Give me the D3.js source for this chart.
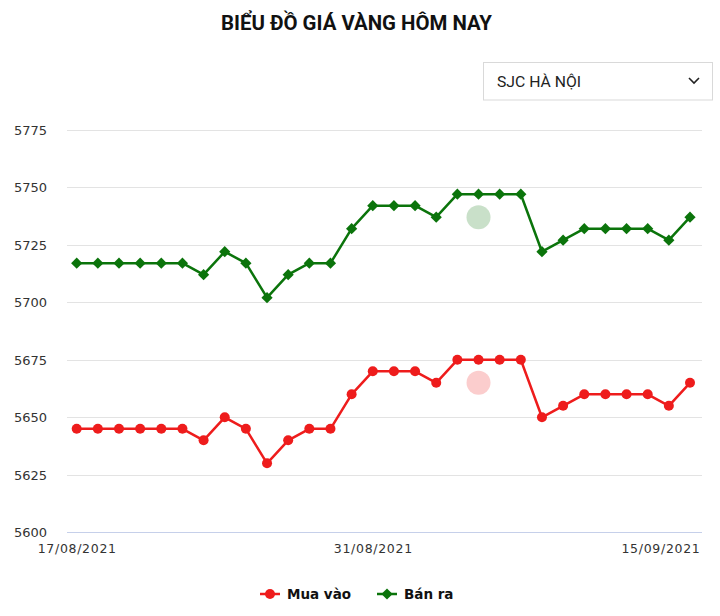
<!DOCTYPE html>
<html>
<head>
<meta charset="utf-8">
<script src="https://cdn.jsdelivr.net/npm/d3@7"></script>
<style>
  html, body { margin: 0; padding: 0; background: #fff; }
  svg { display: block; }
</style>
</head>
<body>
<svg id="chart" width="720" height="616"></svg>
<script>
// ---- data ----
const dates = [
  "17/08/2021","18/08/2021","19/08/2021","20/08/2021","21/08/2021","22/08/2021",
  "23/08/2021","24/08/2021","25/08/2021","26/08/2021","27/08/2021","28/08/2021",
  "29/08/2021","30/08/2021","31/08/2021","01/09/2021","02/09/2021","03/09/2021",
  "04/09/2021","05/09/2021","06/09/2021","07/09/2021","08/09/2021","09/09/2021",
  "10/09/2021","11/09/2021","12/09/2021","13/09/2021","14/09/2021","15/09/2021"
];
const buyValues = [5645,5645,5645,5645,5645,5645,5640,5650,5645,5630,5640,5645,5645,5660,5670,
                   5670,5670,5665,5675,5675,5675,5675,5650,5655,5660,5660,5660,5660,5655,5665];
const sellValues = [5717,5717,5717,5717,5717,5717,5712,5722,5717,5702,5712,5717,5717,5732,5742,
                    5742,5742,5737,5747,5747,5747,5747,5722,5727,5732,5732,5732,5732,5727,5737];
const yTicks = [5600,5625,5650,5675,5700,5725,5750,5775];
const xTickLabels = ["17/08/2021","31/08/2021","15/09/2021"];
const seriesNames = ["Mua vào","Bán ra"];
const haloDate = ["05/09/2021"];
const haloValues = [5665, 5737]; // buy, sell
const titleText = "BIỂU ĐỒ GIÁ VÀNG HÔM NAY";
const selectText = "SJC HÀ NỘI";

// ---- layout ----
const svg = d3.select("#chart");
const plotLeft = 67, plotRight = 702;
const x = d3.scalePoint().domain(dates).range([76.7, 690]);
const y = d3.scaleLinear().domain([5600, 5775]).range([532.3, 129.8]);

const red = "#ee1c1c", green = "#0b740b";

// title
svg.append("text")
  .attr("x", 221).attr("y", 29.5)
  .attr("textLength", 271).attr("lengthAdjust", "spacingAndGlyphs")
  .style("font-family", "Roboto, 'Open Sans', sans-serif")
  .style("font-weight", "700").style("font-size", "20px").attr("fill", "#111")
  .text(titleText);

// dropdown
const dd = svg.append("g");
dd.append("rect").attr("x", 483.5).attr("y", 62.5).attr("width", 229).attr("height", 37.5)
  .attr("fill", "#fff").attr("stroke", "#d9d9d9");
dd.append("text").attr("x", 497).attr("y", 87)
  .style("font-family", "Roboto, sans-serif").style("font-size", "15px").attr("fill", "#222")
  .attr("textLength", 84).attr("lengthAdjust", "spacingAndGlyphs")
  .text(selectText);
dd.append("path").attr("d", "M689,78 L694,83 L699,78").attr("fill", "none")
  .attr("stroke", "#222").attr("stroke-width", 1.6);

// grid
const grid = svg.append("g");
grid.selectAll("line").data(yTicks).join("line")
  .attr("x1", plotLeft).attr("x2", plotRight)
  .attr("y1", d => Math.round(y(d)) + 0.5).attr("y2", d => Math.round(y(d)) + 0.5)
  .attr("stroke", d => d === 5600 ? "#c6d0ea" : "#e3e3e3").attr("stroke-width", 1.2);

// y axis labels
const yAxis = d3.axisLeft(y).tickValues(yTicks).tickFormat(d3.format("d")).tickSize(0).tickPadding(0);
const yg = svg.append("g").attr("transform", "translate(47,0)").call(yAxis);
yg.select(".domain").remove();
yg.selectAll("text")
  .style("font-family", "'DejaVu Sans', Verdana, sans-serif").style("font-size", "13px")
  .attr("fill", "#333").attr("dy", "0.36em");

// x axis labels
const xAxis = d3.axisBottom(x).tickValues(xTickLabels).tickSize(0).tickPadding(0);
const xg = svg.append("g").attr("transform", "translate(0,544)").call(xAxis);
xg.select(".domain").remove();
xg.selectAll("text")
  .style("font-family", "'DejaVu Sans', Verdana, sans-serif").style("font-size", "12.5px")
  .style("letter-spacing", "0.7px")
  .attr("fill", "#333").attr("dy", "0.71em");
// keep labels inside the plot area
xg.selectAll(".tick").each(function(d) {
  const t = d3.select(this).select("text");
  const w = t.node().getComputedTextLength();
  const cx = x(d);
  if (cx + w / 2 > plotRight) {
    t.attr("text-anchor", "end").attr("x", plotRight - 2 - cx);
  }
});

// lines
const line = vals => d3.line().x((d, i) => x(dates[i])).y(d => y(d))(vals);

// halos
const haloG = svg.append("g");
haloG.append("circle").attr("cx", x(haloDate[0])).attr("cy", y(haloValues[0])).attr("r", 12)
  .attr("fill", red).attr("fill-opacity", 0.22);
haloG.append("circle").attr("cx", x(haloDate[0])).attr("cy", y(haloValues[1])).attr("r", 12)
  .attr("fill", green).attr("fill-opacity", 0.22);

svg.append("path").attr("d", line(sellValues)).attr("fill", "none")
  .attr("stroke", green).attr("stroke-width", 2.5).attr("stroke-linejoin", "round");
svg.append("path").attr("d", line(buyValues)).attr("fill", "none")
  .attr("stroke", red).attr("stroke-width", 2.5).attr("stroke-linejoin", "round");

const diamond = d3.symbol().type(d3.symbolDiamond2).size(80);
svg.append("g").selectAll("path").data(sellValues).join("path")
  .attr("d", diamond)
  .attr("transform", (d, i) => `translate(${x(dates[i])},${y(d)})`)
  .attr("fill", green);

svg.append("g").selectAll("circle").data(buyValues).join("circle")
  .attr("cx", (d, i) => x(dates[i])).attr("cy", d => y(d)).attr("r", 5)
  .attr("fill", red);

// legend
const lg = svg.append("g");
const legendItems = [
  {name: seriesNames[0], color: red, x0: 260, type: "circle"},
  {name: seriesNames[1], color: green, x0: 377, type: "diamond"}
];
legendItems.forEach(it => {
  lg.append("line").attr("x1", it.x0).attr("x2", it.x0 + 20).attr("y1", 594).attr("y2", 594)
    .attr("stroke", it.color).attr("stroke-width", 2.5);
  if (it.type === "circle") {
    lg.append("circle").attr("cx", it.x0 + 10).attr("cy", 594).attr("r", 5).attr("fill", it.color);
  } else {
    lg.append("path").attr("d", diamond).attr("transform", `translate(${it.x0 + 10},594)`).attr("fill", it.color);
  }
  lg.append("text").attr("x", it.x0 + 27).attr("y", 599)
    .style("font-family", "'DejaVu Sans', Verdana, sans-serif").style("font-weight", "700")
    .style("font-size", "13.5px").attr("fill", "#111").text(it.name);
});
</script>
</body>
</html>
